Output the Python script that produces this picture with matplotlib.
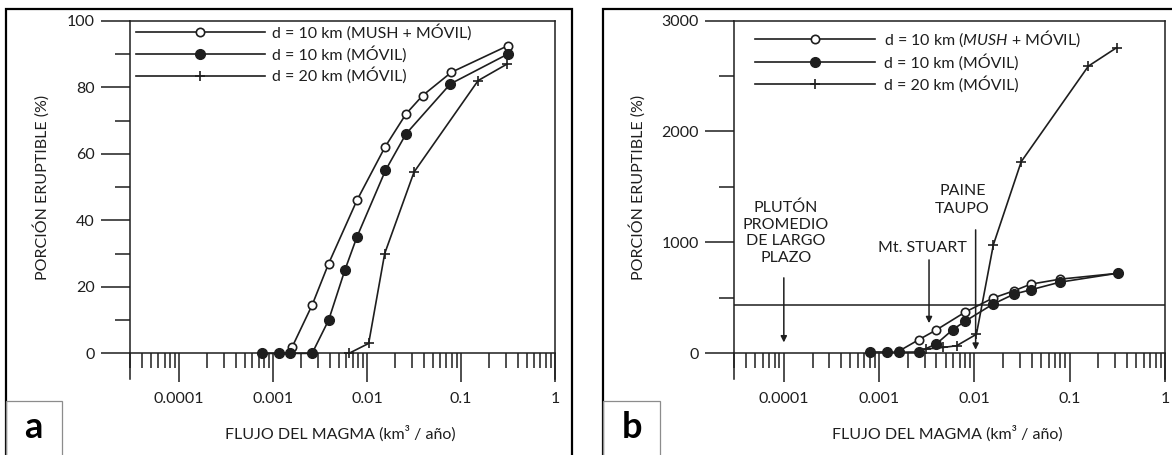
import matplotlib
matplotlib.use("Agg")
import matplotlib.pyplot as plt
from matplotlib.patches import Rectangle
from matplotlib.ticker import LogLocator, NullFormatter, FixedLocator

plt.rcParams["font.family"] = ["Lato", "DejaVu Sans"]
plt.rcParams["mathtext.fontset"] = "custom"
plt.rcParams["mathtext.rm"] = "Lato"
plt.rcParams["mathtext.it"] = "Lato:italic"

INK = "#1e1e1e"
FS = 11.5

# ---- panel a: eruptible portion (%) vs magma flux ----
A_X_MUSH = [0.0016, 0.0026, 0.0039, 0.0078, 0.0155, 0.026, 0.039, 0.079, 0.316]
A_Y_MUSH = [2, 14.5, 27, 46, 62, 72, 77.5, 84.5, 92.5]
A_X_MOV10 = [0.00077, 0.00116, 0.00153, 0.0026, 0.0039, 0.0058, 0.0078, 0.0157, 0.026, 0.077, 0.316]
A_Y_MOV10 = [0, 0, 0, 0, 10, 25, 35, 55, 66, 81, 90]
A_X_MOV20 = [0.0064, 0.0104, 0.0154, 0.0316, 0.152, 0.31]
A_Y_MOV20 = [0, 3, 30, 54.5, 82, 87]

# ---- panel b ----
B_X_MUSH = [0.0016, 0.0026, 0.004, 0.008, 0.0156, 0.026, 0.039, 0.079, 0.32]
B_Y_MUSH = [16, 120, 210, 370, 496, 562, 622, 667, 720]
B_X_MOV10 = [0.0008, 0.0012, 0.0016, 0.0026, 0.004, 0.0059, 0.0079, 0.0156, 0.026, 0.039, 0.079, 0.32]
B_Y_MOV10 = [10, 10, 8, 10, 84, 210, 285, 441, 532, 571, 640, 721]
B_X_MOV20 = [0.0031, 0.0047, 0.0065, 0.0105, 0.0158, 0.031, 0.157, 0.31]
B_Y_MOV20 = [36, 51, 66, 170, 977, 1728, 2590, 2756]
B_HLINE = 435

LABELS_A = ["d = 10 km (MUSH + MÓVIL)", "d = 10 km (MÓVIL)", "d = 20 km (MÓVIL)"]
LABELS_B = [r"d = 10 km ($\mathit{MUSH}$ + MÓVIL)", "d = 10 km (MÓVIL)", "d = 20 km (MÓVIL)"]
XTICKS = [0.0001, 0.001, 0.01, 0.1, 1]
XTICKLABELS = ["0.0001", "0.001", "0.01", "0.1", "1"]

W, H = 1172, 455
fig = plt.figure(figsize=(W / 100, H / 100), dpi=100)


def px_axes(l, r, t, b):
    return fig.add_axes([l / W, 1 - b / H, (r - l) / W, (b - t) / H])


def style_axes(ax, ymax, ybot, ymajor, yminor):
    ax.set_xscale("log")
    ax.set_xlim(3e-5, 1)
    ax.set_ylim(ybot, ymax)
    ax.spines["bottom"].set_position(("data", 0))
    for s in ax.spines.values():
        s.set_linewidth(1.1)
        s.set_color(INK)
    ax.set_xticks(XTICKS, XTICKLABELS)
    ax.xaxis.set_minor_locator(LogLocator(base=10, subs=range(2, 10), numticks=20))
    ax.xaxis.set_minor_formatter(NullFormatter())
    ax.set_yticks(ymajor)
    ax.yaxis.set_minor_locator(FixedLocator(yminor))
    ax.tick_params(axis="both", which="major", direction="out", length=21,
                   width=1.1, color=INK, labelsize=FS, labelcolor=INK)
    ax.tick_params(axis="both", which="minor", direction="out", length=10.5,
                   width=1.1, color=INK)
    ax.tick_params(axis="x", which="major", pad=7)
    ax.tick_params(axis="y", which="major", pad=4.5)
    ax.text(0.494, -0.152, "FLUJO DEL MAGMA (km³ / año)", transform=ax.transAxes,
            ha="center", va="center", fontsize=FS, color=INK)


def draw_series(ax, xs, ys, labels):
    h1, = ax.plot(xs[0], ys[0], "-o", color=INK, lw=1.2, ms=6, mfc="white",
                  mec=INK, mew=1.2, label=labels[0], zorder=3)
    h2, = ax.plot(xs[1], ys[1], "-o", color=INK, lw=1.2, ms=7, mfc=INK,
                  mec=INK, label=labels[1], zorder=4)
    h3, = ax.plot(xs[2], ys[2], "-+", color=INK, lw=1.2, ms=7, mew=1.2,
                  label=labels[2], zorder=3)
    return [h1, h2, h3]


# ---------------- panel a ----------------
axa = px_axes(130, 555, 20.7, 379)
style_axes(axa, 100, -7.7, [0, 20, 40, 60, 80, 100], [10, 30, 50, 70, 90])
draw_series(axa, [A_X_MUSH, A_X_MOV10, A_X_MOV20], [A_Y_MUSH, A_Y_MOV10, A_Y_MOV20], LABELS_A)
axa.legend(loc="upper left", bbox_to_anchor=(0.0134, 0.992), frameon=False,
           borderpad=0, borderaxespad=0, handlelength=8.1, handletextpad=0.42,
           labelspacing=0.32, numpoints=1, fontsize=FS, labelcolor=INK)
axa.text(-0.208, 0.536, "PORCIÓN ERUPTIBLE (%)", transform=axa.transAxes,
         rotation=90, ha="center", va="center", fontsize=FS, color=INK)

# ---------------- panel b ----------------
axb = px_axes(734, 1165, 20.7, 379)
style_axes(axb, 3000, -234, [0, 1000, 2000, 3000], [500, 1500, 2500])
draw_series(axb, [B_X_MUSH, B_X_MOV10, B_X_MOV20], [B_Y_MUSH, B_Y_MOV10, B_Y_MOV20], LABELS_B)
axb.axhline(B_HLINE, color=INK, lw=1.1, zorder=2)
axb.legend(loc="upper left", bbox_to_anchor=(0.0497, 0.978), frameon=False,
           borderpad=0, borderaxespad=0, handlelength=7.5, handletextpad=0.58,
           labelspacing=0.3, numpoints=1, fontsize=FS, labelcolor=INK)
axb.text(-0.225, 0.536, "PORCIÓN ERUPTIBLE (%)", transform=axb.transAxes,
         rotation=90, ha="center", va="center", fontsize=FS, color=INK)

arrow = dict(arrowstyle="-|>", color=INK, lw=1.1, mutation_scale=9, shrinkA=0, shrinkB=0)
axb.annotate("", xy=(1e-4, 96), xytext=(1e-4, 679), arrowprops=arrow)
axb.text(1.05e-4, 1085, "PLUTÓN\nPROMEDIO\nDE LARGO\nPLAZO", ha="center", va="center",
         fontsize=FS, color=INK, linespacing=1.25)
axb.annotate("", xy=(0.00334, 270), xytext=(0.00334, 841), arrowprops=arrow)
axb.text(0.00284, 947, "Mt. STUART", ha="center", va="center", fontsize=FS, color=INK)
axb.annotate("", xy=(0.0103, 30), xytext=(0.0103, 1112), arrowprops=arrow)
axb.text(0.0075, 1382, "PAINE\nTAUPO", ha="center", va="center", fontsize=FS,
         color=INK, linespacing=1.3)

# ---------------- outer frames and panel letters ----------------
for x0, x1, lx1 in [(6, 571.7, 61.7), (603.3, 1180, 660)]:
    fig.add_artist(Rectangle((x0 / W, -0.05), (x1 - x0) / W, 1 - 9.3 / H + 0.05,
                             transform=fig.transFigure, fill=False, ec="black", lw=1.6))
    fig.add_artist(Rectangle((x0 / W, -0.05), (lx1 - x0) / W, 1 - 401 / H + 0.05,
                             transform=fig.transFigure, fill=False, ec="#8c8c8c", lw=0.9))
fig.text(33.5 / W, 1 - 428 / H, "a", ha="center", va="center", fontsize=26,
         fontweight="bold", color="black")
fig.text(632 / W, 1 - 428 / H, "b", ha="center", va="center", fontsize=26,
         fontweight="bold", color="black")

fig.savefig("out.png", dpi=100, facecolor="white")
